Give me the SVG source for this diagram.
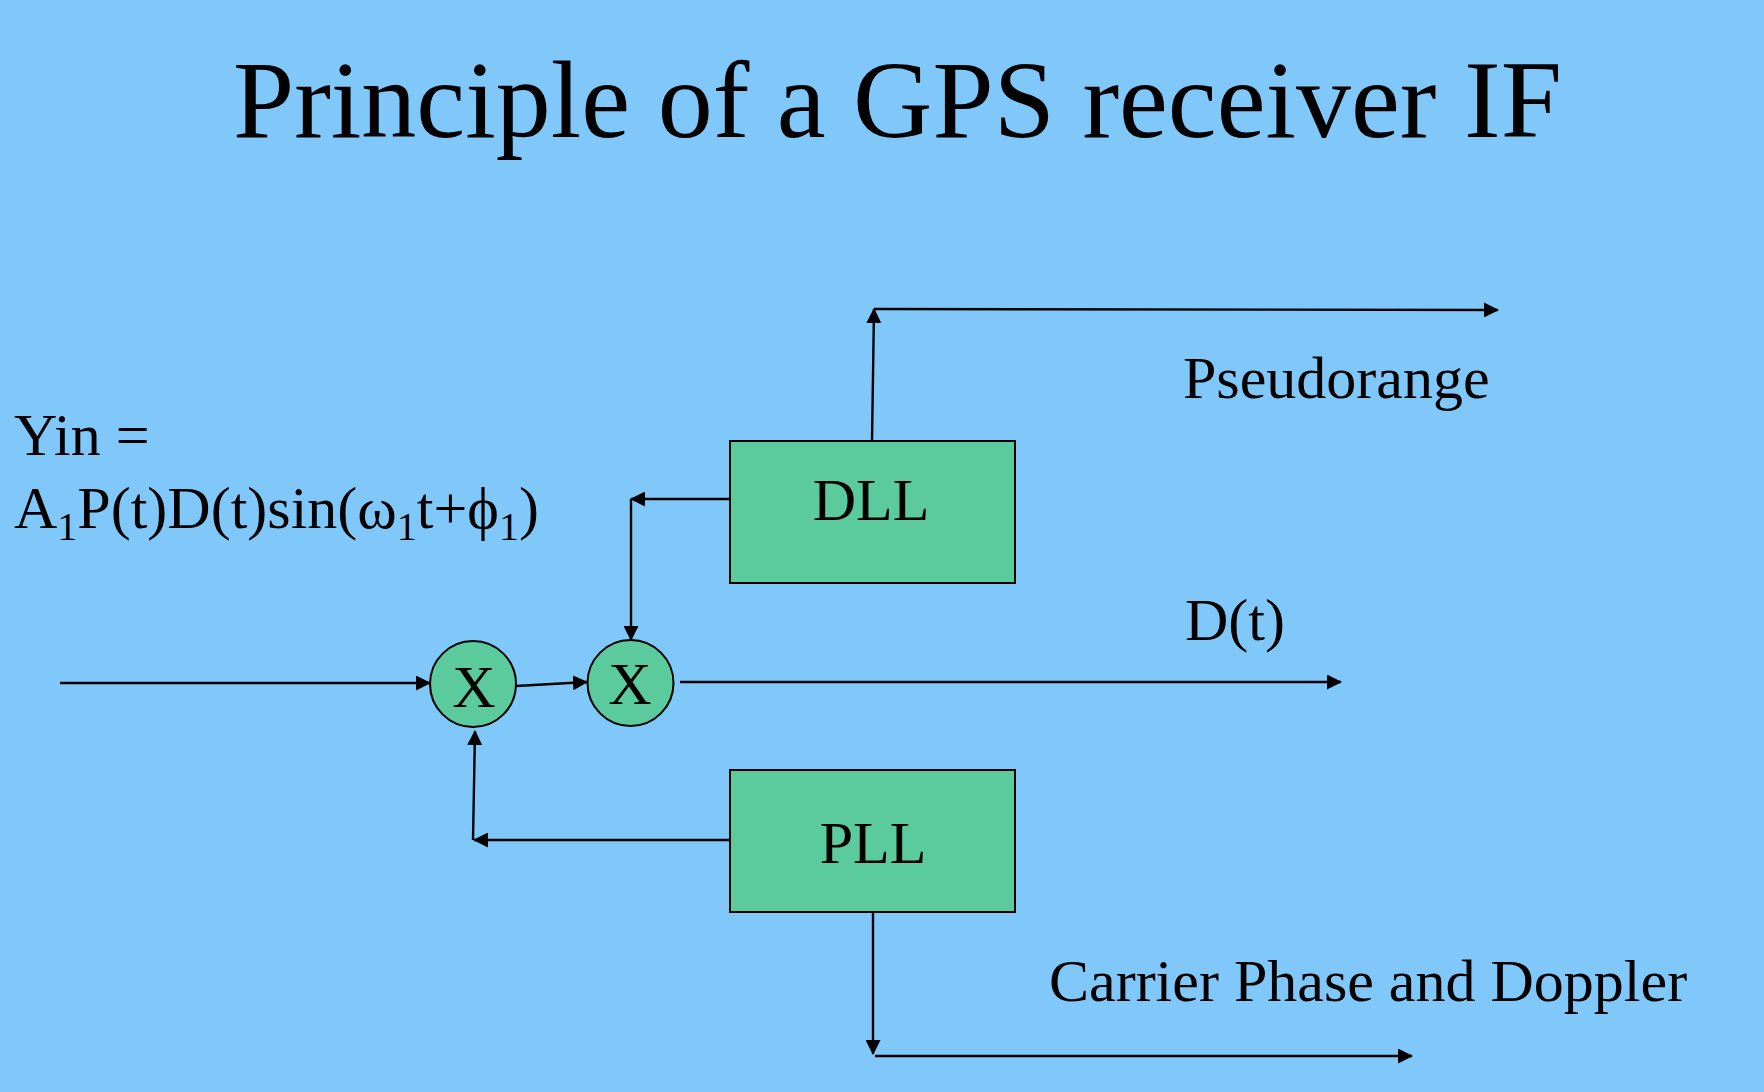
<svg xmlns="http://www.w3.org/2000/svg" width="1764" height="1092" viewBox="0 0 1764 1092">
<style>
text{font-family:"Liberation Serif","Times New Roman",serif;fill:#000}
.lbl{font-size:60px}
.node{fill:#5BCA9C;stroke:#000;stroke-width:2}
.wire{fill:none;stroke:#000;stroke-width:2.4}
</style>
<defs>
<marker id="ah" markerUnits="userSpaceOnUse" markerWidth="15" markerHeight="15" viewBox="0 0 15 15" refX="14" refY="7.5" orient="auto">
<path d="M0,0 L15,7.5 L0,15 z" fill="#000"/>
</marker>
</defs>
<rect width="1764" height="1092" fill="#81C8FA"/>
<text id="title" x="233" y="137" font-size="110">Principle of a GPS receiver IF</text>
<g id="yin">
<text class="lbl" x="14" y="455">Yin =</text>
<text class="lbl" x="14" y="528">A<tspan font-size="40" dy="12">1</tspan><tspan dy="-12">P(t)D(t)sin(ω</tspan><tspan font-size="40" dy="12">1</tspan><tspan dy="-12">t+ϕ</tspan><tspan font-size="40" dy="12">1</tspan><tspan dy="-12">)</tspan></text>
</g>
<g id="connectors">
<line class="wire" x1="60" y1="683" x2="430" y2="683" marker-end="url(#ah)"/>
<line class="wire" x1="516" y1="686" x2="587" y2="682" marker-end="url(#ah)"/>
<line class="wire" x1="680" y1="682" x2="1341" y2="682" marker-end="url(#ah)"/>
<line class="wire" x1="730" y1="499" x2="631" y2="499" marker-end="url(#ah)"/>
<line class="wire" x1="631" y1="499" x2="631" y2="640" marker-end="url(#ah)"/>
<line class="wire" x1="872" y1="441" x2="874" y2="309" marker-end="url(#ah)"/>
<line class="wire" x1="874" y1="309" x2="1498" y2="310" marker-end="url(#ah)"/>
<line class="wire" x1="730" y1="840" x2="474" y2="840" marker-end="url(#ah)"/>
<line class="wire" x1="473" y1="840" x2="475" y2="731" marker-end="url(#ah)"/>
<line class="wire" x1="873" y1="912" x2="873" y2="1054" marker-end="url(#ah)"/>
<line class="wire" x1="875" y1="1056" x2="1412" y2="1056" marker-end="url(#ah)"/>
</g>
<g id="mixer1">
<circle class="node" cx="473" cy="684" r="43"/>
<text class="lbl" x="474" y="707" text-anchor="middle">X</text>
</g>
<g id="mixer2">
<circle class="node" cx="630.5" cy="683" r="43"/>
<text class="lbl" x="630" y="704" text-anchor="middle">X</text>
</g>
<g id="dll">
<rect class="node" x="730" y="441" width="285" height="142"/>
<text class="lbl" x="871" y="520" text-anchor="middle">DLL</text>
</g>
<g id="pll">
<rect class="node" x="730" y="770" width="285" height="142"/>
<text class="lbl" x="873" y="863" text-anchor="middle">PLL</text>
</g>
<text id="pseudorange" class="lbl" x="1183" y="398">Pseudorange</text>
<text id="dt" class="lbl" x="1185" y="640">D(t)</text>
<text id="carrier" class="lbl" x="1049" y="1001">Carrier Phase and Doppler</text>
</svg>
